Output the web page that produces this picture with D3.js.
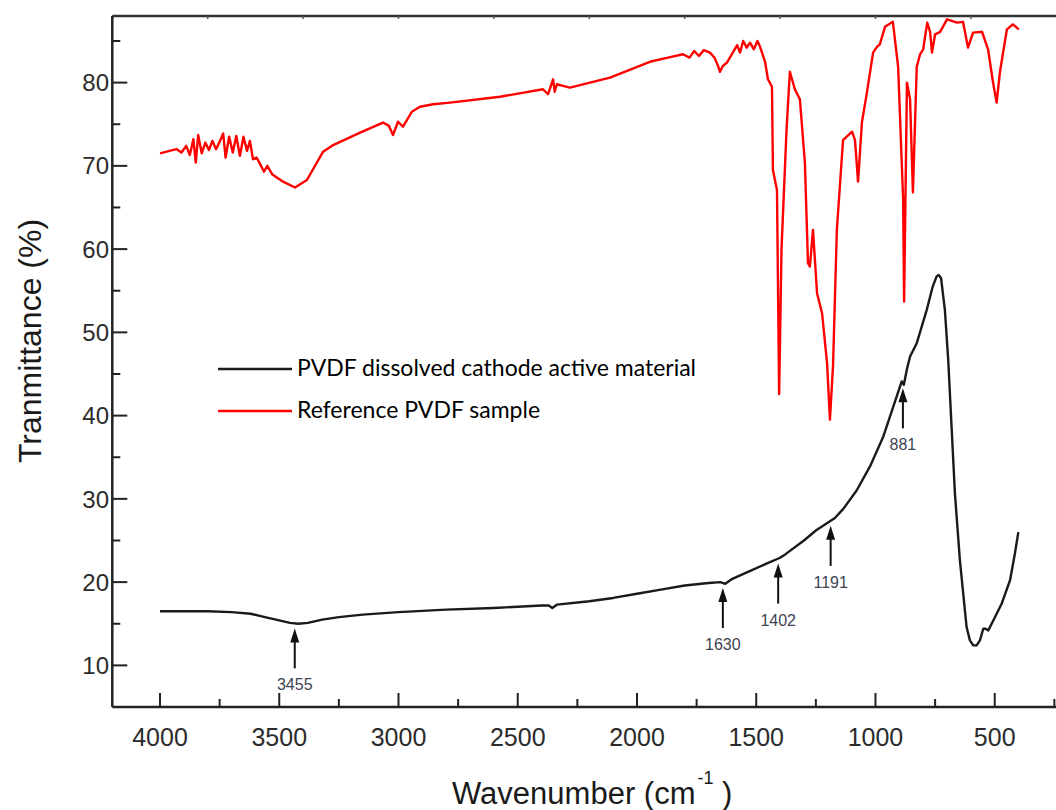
<!DOCTYPE html>
<html>
<head>
<meta charset="utf-8">
<script src="https://cdn.jsdelivr.net/npm/d3@7"></script>
<style>
  html, body { margin: 0; padding: 0; background: #fff; }
  svg { display: block; }
</style>
</head>
<body>
<div id="chart"></div>
<script>
// ---------------- DATA ----------------
const seriesNames = ["PVDF dissolved cathode active material", "Reference PVDF sample"];
const seriesColors = ["#1a1a1a", "#ff0000"];

// Black curve: PVDF dissolved cathode active material  [wavenumber, transmittance]
const cathodeWave = [4000,3900,3800,3700,3620,3560,3500,3455,3420,3380,3320,3250,3150,3000,2800,2600,2400,2370,2355,2335,2200,2100,2000,1900,1800,1700,1650,1630,1600,1530,1450,1402,1380,1300,1250,1191,1170,1135,1079,1023,967,911,890,881,868,855,827,785,760,744,735,725,709,695,681,667,646,618,604,590,576,562,548,538,527,506,471,436,415,401];
const cathodeT    = [16.5,16.5,16.5,16.4,16.2,15.8,15.4,15.1,15.0,15.1,15.5,15.8,16.1,16.4,16.7,16.9,17.2,17.2,16.9,17.3,17.7,18.1,18.6,19.1,19.6,19.9,20.0,19.8,20.4,21.3,22.3,22.9,23.3,25.0,26.2,27.3,27.7,28.8,31.0,33.9,37.5,42.3,44.1,43.7,45.6,47.1,48.7,52.7,55.5,56.7,56.9,56.5,52.7,46.7,38.7,30.7,22.6,14.6,13.0,12.4,12.4,13.0,14.4,14.4,14.2,15.4,17.4,20.2,23.5,26.0];

// Red curve: Reference PVDF sample
const refWave = [4000,3960,3930,3910,3890,3875,3860,3850,3840,3825,3810,3795,3780,3765,3750,3735,3725,3710,3695,3680,3665,3650,3635,3623,3610,3595,3580,3564,3550,3530,3484,3434,3384,3316,3274,3161,3065,3040,3023,3002,2981,2944,2910,2855,2784,2574,2394,2373,2352,2345,2336,2310,2281,2113,1946,1870,1807,1780,1760,1740,1720,1694,1675,1660,1652,1640,1623,1600,1580,1568,1555,1540,1526,1510,1495,1484,1463,1451,1434,1430,1413,1404,1394,1373,1359,1338,1317,1296,1283,1275,1262,1245,1224,1203,1191,1178,1162,1136,1098,1086,1073,1057,1036,1010,994,982,960,927,905,884,880,868,855,843,827,813,800,783,771,763,750,729,700,658,633,612,591,553,528,507,492,478,449,424,399];
const refT    = [71.5,71.8,72.0,71.6,72.4,71.3,73.2,70.4,73.7,71.5,72.8,71.9,73.0,72.0,72.9,73.9,71.0,73.5,71.6,73.6,71.2,73.5,71.8,73.0,70.8,71.0,70.2,69.3,70.0,69.0,68.1,67.4,68.3,71.7,72.5,74.0,75.2,74.8,73.7,75.3,74.7,76.5,77.1,77.4,77.6,78.3,79.2,78.6,80.4,78.9,79.8,79.6,79.4,80.6,82.5,83.0,83.4,83.0,83.8,83.2,83.9,83.6,83.0,82.0,81.3,82.0,82.4,83.5,84.5,83.6,85.0,84.2,84.8,84.0,85.0,84.3,82.5,80.4,79.5,69.5,67.1,42.6,60.0,74.3,81.3,79.2,78.0,70.4,58.3,57.9,62.3,54.7,52.3,46.3,39.5,46.0,62.3,73.1,74.1,73.1,68.1,75.2,78.8,83.6,84.3,84.6,86.7,87.3,81.9,65.9,53.7,80.0,78.0,66.8,81.9,83.4,84.0,87.2,86.1,83.6,85.8,86.1,87.6,87.2,87.3,84.2,86.0,86.1,84.0,80.0,77.6,81.3,86.4,87.0,86.4];

// Peak annotations on the black curve
const peakLabels = ["3455", "1630", "1402", "1191", "881"];
const peakWave   = [3435, 1640, 1408, 1188, 885];

// Axis ticks
const xTicksMajor = [4000, 3500, 3000, 2500, 2000, 1500, 1000, 500];
const xTicksMinor = [3750, 3250, 2750, 2250, 1750, 1250, 750, 250];
const xTicksTop   = [3800, 3400, 3000, 2600, 2200, 1800, 1400, 1000, 600];
const yTicksMajor = [10, 20, 30, 40, 50, 60, 70, 80];
const yTicksMinor = [15, 25, 35, 45, 55, 65, 75, 85];

// ---------------- DRAW ----------------
const W = 1056, H = 810;
const svg = d3.select("#chart").append("svg").attr("width", W).attr("height", H);

const x = d3.scaleLinear().domain([4200, 150]).range([112.3, 1078.2]);
const y = d3.scaleLinear().domain([5, 88]).range([707, 16]);

const x0 = x(4200), x1 = x(150), yb = y(5), yt = y(88);

// frame
const frame = svg.append("g");
frame.append("line").attr("x1", x0).attr("x2", x1).attr("y1", yt).attr("y2", yt)
  .attr("stroke", "#333").attr("stroke-width", 2.5);
frame.append("line").attr("x1", x0).attr("x2", x0).attr("y1", yt).attr("y2", yb)
  .attr("stroke", "#222").attr("stroke-width", 2.5);
frame.append("line").attr("x1", x0).attr("x2", x1).attr("y1", yb).attr("y2", yb)
  .attr("stroke", "#222").attr("stroke-width", 2.5);

// bottom axis ticks (inward)
const gx = svg.append("g");
gx.selectAll("line.maj").data(xTicksMajor).enter().append("line")
  .attr("x1", d => x(d)).attr("x2", d => x(d)).attr("y1", yb).attr("y2", yb - 14)
  .attr("stroke", "#222").attr("stroke-width", 2);
gx.selectAll("line.min").data(xTicksMinor).enter().append("line")
  .attr("x1", d => x(d)).attr("x2", d => x(d)).attr("y1", yb).attr("y2", yb - 8)
  .attr("stroke", "#222").attr("stroke-width", 2);
gx.selectAll("text").data(xTicksMajor).enter().append("text")
  .attr("x", d => x(d)).attr("y", 746)
  .attr("text-anchor", "middle")
  .attr("font-family", "Liberation Sans, Arial, sans-serif")
  .attr("font-size", 25).attr("fill", "#2b2b2b")
  .text(d => d);

// top ticks (small, inward)
svg.append("g").selectAll("line").data(xTicksTop).enter().append("line")
  .attr("x1", d => x(d)).attr("x2", d => x(d)).attr("y1", yt).attr("y2", yt + 3)
  .attr("stroke", "#555").attr("stroke-width", 1.5);

// left axis ticks (inward)
const gy = svg.append("g");
gy.selectAll("line.maj").data(yTicksMajor).enter().append("line")
  .attr("x1", x0).attr("x2", x0 + 15).attr("y1", d => y(d)).attr("y2", d => y(d))
  .attr("stroke", "#222").attr("stroke-width", 2);
gy.selectAll("line.min").data(yTicksMinor).enter().append("line")
  .attr("x1", x0).attr("x2", x0 + 8).attr("y1", d => y(d)).attr("y2", d => y(d))
  .attr("stroke", "#222").attr("stroke-width", 2);
gy.selectAll("text").data(yTicksMajor).enter().append("text")
  .attr("x", 109).attr("y", d => y(d)).attr("dy", "0.36em")
  .attr("text-anchor", "end")
  .attr("font-family", "Liberation Sans, Arial, sans-serif")
  .attr("font-size", 24).attr("fill", "#2b2b2b")
  .text(d => d);

// axis titles
const xt = svg.append("text")
  .attr("x", 452).attr("y", 804)
  .attr("font-family", "Liberation Sans, Arial, sans-serif")
  .attr("font-size", 31).attr("fill", "#1a1a1a");
xt.append("tspan").text("Wavenumber (cm");
xt.append("tspan").attr("font-size", 18).attr("dy", -20).attr("dx", 2).text("-1");
xt.append("tspan").attr("dy", 20).attr("dx", 0).text(" )");

svg.append("text")
  .attr("transform", "translate(41,341) rotate(-90)")
  .attr("text-anchor", "middle")
  .attr("font-family", "Liberation Sans, Arial, sans-serif")
  .attr("font-size", 32).attr("fill", "#1a1a1a")
  .text("Tranmittance (%)");

// curves
const line = d3.line().x(d => x(d[0])).y(d => y(d[1]));
const cathode = cathodeWave.map((w, i) => [w, cathodeT[i]]);
const ref = refWave.map((w, i) => [w, refT[i]]);

svg.append("path").datum(ref).attr("d", line)
  .attr("fill", "none").attr("stroke", seriesColors[1]).attr("stroke-width", 2.4)
  .attr("stroke-linejoin", "round");
svg.append("path").datum(cathode).attr("d", line)
  .attr("fill", "none").attr("stroke", seriesColors[0]).attr("stroke-width", 2.4)
  .attr("stroke-linejoin", "round");

// peak arrows
const interp = w => {
  for (let i = 0; i < cathodeWave.length - 1; i++) {
    const a = cathodeWave[i], b = cathodeWave[i + 1];
    if (w <= a && w >= b) {
      const t = (a - w) / (a - b);
      return cathodeT[i] + t * (cathodeT[i + 1] - cathodeT[i]);
    }
  }
  return cathodeT[0];
};
const ga = svg.append("g");
peakWave.forEach((w, i) => {
  const px = x(w), tip = y(interp(w)) + 5;
  ga.append("path")
    .attr("d", `M${px},${tip} L${px - 4.5},${tip + 14} L${px + 4.5},${tip + 14} Z`)
    .attr("fill", "#111");
  ga.append("line").attr("x1", px).attr("x2", px).attr("y1", tip + 12).attr("y2", tip + 40)
    .attr("stroke", "#111").attr("stroke-width", 2);
  ga.append("text").attr("x", px).attr("y", tip + 62)
    .attr("text-anchor", "middle")
    .attr("font-family", "Liberation Sans, Arial, sans-serif")
    .attr("font-size", 16).attr("fill", "#3d4452")
    .text(peakLabels[i]);
});

// legend
const lg = svg.append("g");
seriesNames.forEach((n, i) => {
  const ly = 369 + i * 42;
  lg.append("line").attr("x1", 218).attr("x2", 292).attr("y1", ly).attr("y2", ly)
    .attr("stroke", seriesColors[i]).attr("stroke-width", 2.5);
  lg.append("text").attr("x", 297).attr("y", ly + 7)
    .attr("font-family", "Lato, 'Open Sans', sans-serif")
    .attr("font-size", 23).attr("fill", "#000")
    .text(n);
});
</script>
</body>
</html>
